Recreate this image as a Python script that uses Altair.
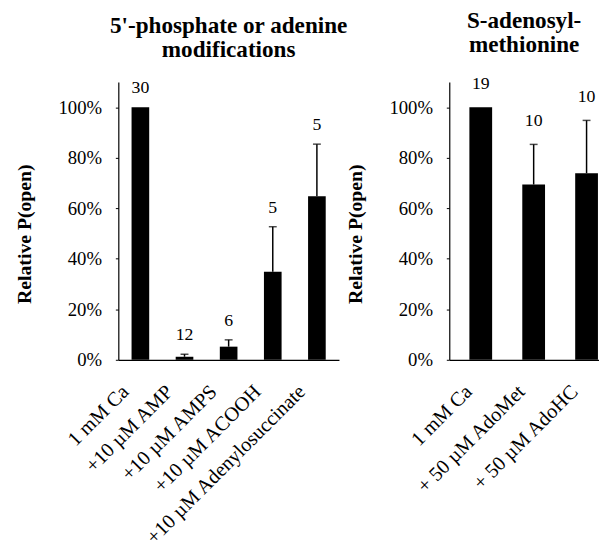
import altair as alt
import pandas as pd

# ---- data ----
left_categories = ["1 mM Ca", "+10 µM AMP", "+10 µM AMPS", "+10 µM ACOOH", "+10 µM Adenylosuccinate"]
left_values = [100, 1.2, 5.2, 34.9, 64.8]
left_errors = [0, 1.0, 2.7, 17.8, 20.6]
left_counts = [30, 12, 6, 5, 5]

right_categories = ["1 mM Ca", "+ 50 µM AdoMet", "+ 50 µM AdoHC"]
right_values = [100, 69.4, 73.9]
right_errors = [0, 15.9, 20.9]
right_counts = [19, 10, 10]

left_title = ["5'-phosphate or adenine", "modifications"]
right_title = ["S-adenosyl-", "methionine"]
y_ticks = [0, 20, 40, 60, 80, 100]

FONT = "Liberation Serif, Times New Roman, serif"


def panel(cats, vals, errs, counts, title_lines, width, label_dy, label_offset, xscale):
    df = pd.DataFrame({"cat": cats, "val": vals, "err": errs, "n": counts})
    df["top"] = df["val"] + df["err"]

    x = alt.X(
        "cat:N",
        sort=cats,
        scale=xscale,
        title=None,
        axis=alt.Axis(
            labelAngle=-45,
            labelAlign="right",
            labelBaseline="middle",
            labelOffset=label_offset,
            labelPadding=29,
            labelFont=FONT,
            labelFontSize=20.5,
            labelColor="black",
            labelLimit=400,
            ticks=False,
            domainColor="black",
            domainWidth=1.2,
        ),
    )
    yscale = alt.Scale(domain=[0, 110], nice=False)
    base = alt.Chart(df).encode(x=x)

    bars = base.mark_bar(color="black").encode(
        y=alt.Y(
            "val:Q",
            scale=yscale,
            axis=alt.Axis(
                values=y_ticks,
                labelExpr="datum.value + '%'",
                labelFont=FONT,
                labelFontSize=19,
                labelColor="black",
                labelPadding=14,
                tickSize=3,
                tickColor="black",
                domainColor="black",
                domainWidth=1.2,
                grid=False,
                title="Relative P(open)",
                titleFont=FONT,
                titleFontSize=20,
                titleFontWeight="bold",
                titleColor="black",
                titleX=-85,
                titleY=154,
                titleAlign="center",
            ),
        )
    )
    err_base = base.transform_filter("datum.err > 0")
    rules = err_base.mark_rule(color="black", strokeWidth=1.5).encode(
        y=alt.Y("val:Q", scale=yscale), y2="top:Q"
    )
    caps = err_base.mark_tick(color="black", size=8, thickness=1.5, orient="horizontal").encode(
        y=alt.Y("top:Q", scale=yscale)
    )
    labels = base.mark_text(
        font=FONT, fontSize=18, dy=label_dy, baseline="alphabetic", color="black"
    ).encode(y=alt.Y("top:Q", scale=yscale), text="n:Q")

    return alt.layer(bars, rules, caps, labels).properties(
        width=width,
        height=282,
        title=alt.TitleParams(
            text=title_lines,
            font=FONT,
            fontSize=23.5,
            fontWeight="bold",
            color="black",
            anchor="middle",
            lineHeight=24,
            offset=19,
        ),
    )


left = panel(
    left_categories, left_values, left_errors, left_counts, left_title, 224, -14, -15,
    alt.Scale(paddingInner=0.6, paddingOuter=0.3),
)
right = panel(
    right_categories, right_values, right_errors, right_counts, right_title, 152, -19, -12,
    alt.Scale(paddingInner=0.57, paddingOuter=0.2, align=0.95),
)

chart = (
    alt.hconcat(left, right, spacing=-2)
    .properties(padding={"left": 7, "top": -3, "right": 0, "bottom": 0})
    .configure_view(stroke=None)
)

chart.save("out.html", embed_options={"renderer": "svg", "actions": False})
